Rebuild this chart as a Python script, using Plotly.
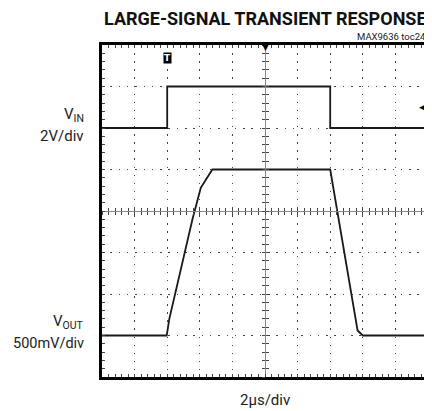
"""Large-signal transient response (scope capture) recreated with Plotly."""

import plotly.graph_objects as go

# Time axis: 2 us/div, 10 divisions
t_vin = [0.0, 4.0, 4.0, 14.0, 14.0, 20.0]
v_in = [0.0, 0.0, 2.0, 2.0, 0.0, 0.0]  # V, 2V/div

t_vout = [0.0, 3.97, 4.13, 5.55, 6.06, 6.77, 14.0, 14.81, 15.68, 16.0, 20.0]
v_out = [0.0, 0.0, 0.20, 1.40, 1.78, 2.0, 2.0, 1.04, 0.06, 0.0, 0.0]  # V, 500mV/div

FONTE = "Roboto, Liberation Sans, sans-serif"
COR_TRACO = "#1a1a1a"
COR_GRADE = "#444444"

fig = go.Figure()

fig.add_trace(go.Scatter(
    x=t_vin, y=v_in, mode="lines",
    line=dict(color=COR_TRACO, width=1.8),
    xaxis="x", yaxis="y", showlegend=False, hoverinfo="skip",
))
fig.add_trace(go.Scatter(
    x=t_vout, y=v_out, mode="lines",
    line=dict(color=COR_TRACO, width=1.8),
    xaxis="x", yaxis="y2", showlegend=False, hoverinfo="skip",
))

# Eixos auxiliares (cruz central com marcas) - tracos vazios para ativa-los
for xa, ya in [("x2", "y"), ("x3", "y"), ("x", "y3"), ("x", "y4")]:
    fig.add_trace(go.Scatter(x=[], y=[], xaxis=xa, yaxis=ya,
                             showlegend=False, hoverinfo="skip"))

eixo_base = dict(
    showticklabels=False, zeroline=False,
    showline=True, linecolor="black", linewidth=2.5, mirror="ticks",
    ticks="inside", ticklen=3, tickcolor=COR_GRADE, tickwidth=1,
    showgrid=True, gridcolor=COR_GRADE, gridwidth=1,
    minor=dict(ticks="inside", ticklen=3, tickcolor=COR_GRADE, showgrid=False),
)

centro_x = dict(
    overlaying="x", anchor="free", position=0.5, range=[0, 20],
    dtick=0.4, tick0=0, ticklen=3, tickcolor=COR_GRADE, tickwidth=1,
    showticklabels=False, showgrid=False, zeroline=False,
    showline=True, linecolor="#888888", linewidth=1,
)
centro_y = dict(
    overlaying="y", anchor="free", position=0.5, range=[-12, 4],
    dtick=0.4, tick0=0, ticklen=3, tickcolor=COR_GRADE, tickwidth=1,
    showticklabels=False, showgrid=False, zeroline=False,
    showline=True, linecolor="#888888", linewidth=1,
)

# A pagina tem margem de 8px no body: a figura ocupa o resto da janela
fig.update_layout(
    width=424, height=403,
    margin=dict(l=94, r=1, t=37, b=34),
    paper_bgcolor="white", plot_bgcolor="white",
    font=dict(family=FONTE, color="#222222"),
    xaxis=dict(eixo_base, range=[0, 20], dtick=2, tick0=0,
               griddash="1.5px,6.6px", minor_dtick=0.4),
    yaxis=dict(eixo_base, range=[-12, 4], dtick=2, tick0=0,
               griddash="1.5px,6.8px", minor_dtick=0.4),
    yaxis2=dict(overlaying="y", range=[-0.5, 3.5], visible=False),
    xaxis2=dict(centro_x, ticks="inside"),
    xaxis3=dict(centro_x, ticks="outside"),
    yaxis3=dict(centro_y, ticks="inside"),
    yaxis4=dict(centro_y, ticks="outside"),
    annotations=[
        dict(text="<b>LARGE-SIGNAL TRANSIENT RESPONSE</b>", xref="paper", yref="paper",
             x=0.5, y=1, yshift=27, xanchor="center", yanchor="middle",
             showarrow=False, font=dict(size=18, color="#111111")),
        dict(text="MAX9636 toc24", xref="paper", yref="paper",
             x=1, y=1, yshift=9, xanchor="right", yanchor="middle",
             showarrow=False, font=dict(size=9.5)),
        dict(text="V<sub>IN</sub>", xref="paper", yref="paper",
             x=-0.05, y=0.789, xanchor="right", yanchor="middle",
             showarrow=False, font=dict(size=15)),
        dict(text="2V/div", xref="paper", yref="paper",
             x=-0.05, y=0.726, xanchor="right", yanchor="middle",
             showarrow=False, font=dict(size=15)),
        dict(text="V<sub>OUT</sub>", xref="paper", yref="paper",
             x=-0.05, y=0.166, xanchor="right", yanchor="middle",
             showarrow=False, font=dict(size=15)),
        dict(text="500mV/div", xref="paper", yref="paper",
             x=-0.05, y=0.102, xanchor="right", yanchor="middle",
             showarrow=False, font=dict(size=14.5)),
        dict(text="2\u00b5s/div", xref="paper", yref="paper",
             x=0.5, y=0, yshift=-23, xanchor="center", yanchor="middle",
             showarrow=False, font=dict(size=15)),
        # Marcador de disparo (T)
        dict(text="<b>T</b>", xref="x", yref="paper", x=4, y=0.96,
             xanchor="center", yanchor="middle", showarrow=False,
             bgcolor="black", borderpad=0, font=dict(size=9, color="white",
                                                     family="DejaVu Sans")),
        # Posicao de disparo (triangulo no topo)
        dict(text="\u25bc", xref="paper", yref="paper", x=0.5, y=1, yshift=-2,
             xanchor="center", yanchor="middle", showarrow=False,
             font=dict(size=9, color="black", family="DejaVu Sans")),
        # Nivel de disparo (seta a direita)
        dict(text="\u25c0", xref="paper", yref="paper", x=0.983, y=0.813,
             xanchor="center", yanchor="middle", showarrow=False,
             font=dict(size=9, color="black", family="DejaVu Sans")),
    ],
)

fig.write_html("out.html")
